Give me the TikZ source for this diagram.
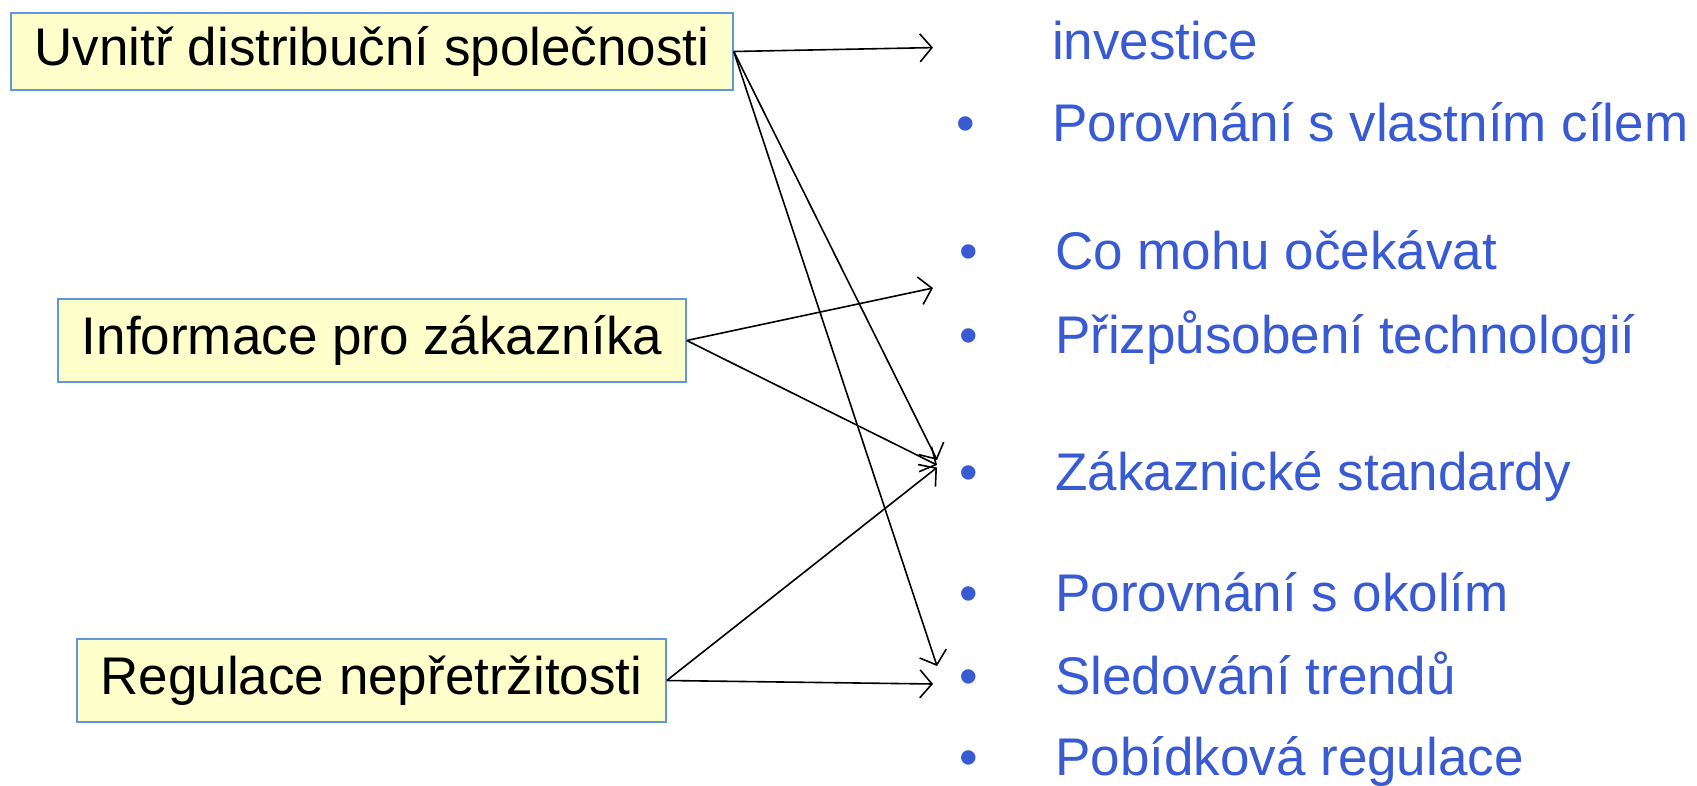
\documentclass[tikz,border=0pt]{standalone}
\usepackage{fontspec}
\setmainfont{Liberation Sans}
\usetikzlibrary{arrows.meta}

\definecolor{boxfill}{RGB}{255,255,204}
\definecolor{boxline}{RGB}{96,150,220}
\definecolor{itemblue}{RGB}{56,90,210}

\tikzset{
	topic/.style={draw=boxline, line width=1.5pt, fill=boxfill, inner sep=0pt, font=\fontsize{53}{60}\selectfont},
	item/.style={anchor=base west, inner sep=0pt, text=itemblue, font=\fontsize{53}{60}\selectfont},
	link/.style={line width=1.6pt, -{Straight Barb[length=12pt,width=28pt]}}
}
\newcommand{\bul}{\makebox[96pt][l]{\textbullet}}

\begin{document}
\begin{tikzpicture}[x=1pt, y=-1pt]
	\useasboundingbox (0, 0) rectangle (1697, 786);
	
	% left boxes
	\node[topic, minimum width=722pt, minimum height=77pt] (inside) at (372, 51.5) {Uvnitř distribuční společnosti};
	\node[topic, minimum width=628pt, minimum height=83pt] (customer) at (372, 340.5) {Informace pro zákazníka};
	\node[topic, minimum width=589pt, minimum height=83pt] (continuity) at (371.5, 680.5) {Regulace nepřetržitosti};
	
	% right list
	\node[item] (invest) at (1052, 59.5) {investice};
	\node[item] (goal) at (956, 142) {\bul Porovnání s vlastním cílem};
	\node[item] (expect) at (959, 269.5) {\bul Co mohu očekávat};
	\node[item] (tech) at (959, 353) {\bul Přizpůsobení technologií};
	\node[item] (standards) at (959, 490) {\bul Zákaznické standardy};
	\node[item] (around) at (959, 611.5) {\bul Porovnání s okolím};
	\node[item] (trends) at (959, 694) {\bul Sledování trendů};
	\node[item] (incentive) at (959, 775) {\bul Pobídková regulace};
	
	% arrow tips
	\coordinate (toInvest) at (933, 47.6);
	\coordinate (toExpect) at (933, 288);
	\coordinate (toStdA) at (937, 460);
	\coordinate (toStdB) at (937, 465);
	\coordinate (toStdC) at (937, 467.5);
	\coordinate (toTrendsA) at (937, 666);
	\coordinate (toTrendsB) at (933, 684);
	
	\draw[link] (inside.east) -- (toInvest);
	\draw[link] (inside.east) -- (toStdA);
	\draw[link] (inside.east) -- (toTrendsA);
	\draw[link] (customer.east) -- (toExpect);
	\draw[link] (customer.east) -- (toStdB);
	\draw[link] (continuity.east) -- (toStdC);
	\draw[link] (continuity.east) -- (toTrendsB);
	
\end{tikzpicture}
\end{document}
